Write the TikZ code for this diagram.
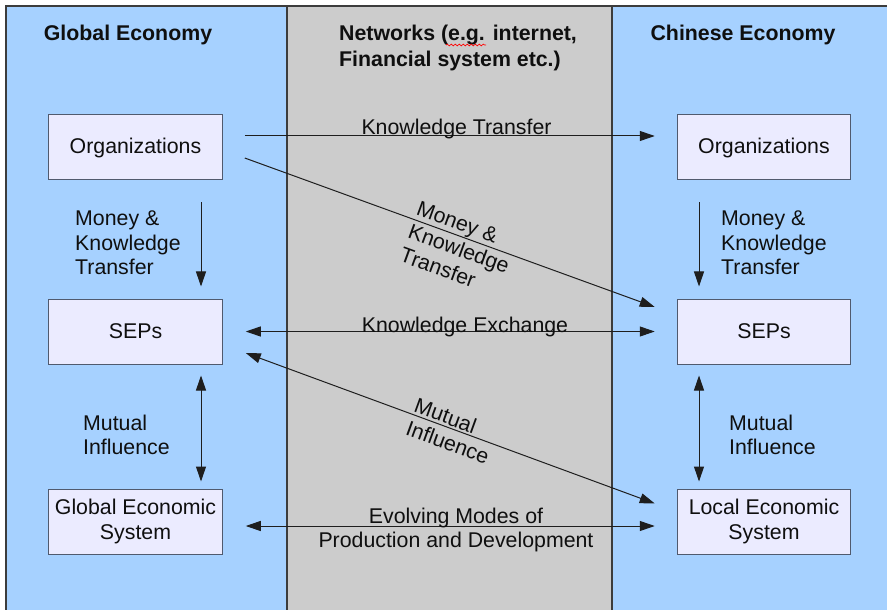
\documentclass[tikz,border=0pt]{standalone}
\usepackage{fontspec}
\setmainfont{Liberation Sans}
\usetikzlibrary{arrows.meta,calc,decorations.pathmorphing}
\definecolor{panelblue}{RGB}{166,209,255}
\definecolor{netgray}{RGB}{204,204,204}
\definecolor{boxfill}{RGB}{235,235,255}
\definecolor{boxline}{RGB}{80,90,110}
\definecolor{panelline}{RGB}{60,60,60}
\definecolor{arrowcol}{RGB}{30,30,30}
\definecolor{txt}{RGB}{15,15,15}
\tikzset{
  base/.style={font=\fontsize{21.4pt}{24.6pt}\selectfont, text=txt, inner sep=0pt},
  title/.style={base, font=\fontsize{21.4pt}{25.5pt}\selectfont\bfseries},
  lbl/.style={base},
  ebox/.style={base, draw=boxline, fill=boxfill, line width=1bp, minimum width=173.5bp, minimum height=65bp, align=center},
  conn/.style={draw=arrowcol, line width=1bp, -{Triangle[length=15bp,width=10bp]}},
  biconn/.style={draw=arrowcol, line width=1bp, {Triangle[length=15bp,width=10bp]}-{Triangle[length=15bp,width=10bp]}}
}
\begin{document}
\begin{tikzpicture}[x=1bp,y=-1bp]
\useasboundingbox (0,0) rectangle (887,610);
\begin{scope}
  \clip (0,0) rectangle (887,610);
  \fill[white] (0,0) rectangle (887,610);
  \fill[panelblue] (6,6) rectangle (900,620);
  \fill[netgray] (287,6) rectangle (612,620);
  \draw[panelline, line width=1.2bp] (6,620) -- (6,6) -- (900,6);
  \draw[panelline, line width=1.2bp] (287,6) -- (287,620);
  \draw[panelline, line width=1.2bp] (612,6) -- (612,620);
\end{scope}

% titles
\node[title] (tG) at (128,34.5) {Global Economy};
\node[title] (tC) at (743,34.5) {Chinese Economy};
\node[title, align=left, anchor=west] (tN) at (339,48) {Networks (e.g. internet,\\Financial system etc.)};
\draw[red, line width=0.7bp, decorate, decoration={snake, segment length=4bp, amplitude=0.9bp}] (446,45) -- (486,45);

% boxes
\node[ebox] (orgL) at (135.5,147.5) {Organizations};
\node[ebox] (sepL) at (135.5,331.5) {SEPs};
\node[ebox] (gesL) at (135.5,521.5) {Global Economic\\System};
\node[ebox] (orgR) at (764,147.5) {Organizations};
\node[ebox] (sepR) at (764,331.5) {SEPs};
\node[ebox] (lesR) at (764,521.5) {Local Economic\\System};

% horizontal / diagonal connectors
\draw[conn] ([shift={(22,-11.5)}]orgL.east) -- ([shift={(-22,-11.5)}]orgR.west);
\draw[conn] ([shift={(22,10.5)}]orgL.east) -- ([shift={(-22,-24.5)}]sepR.west);
\draw[biconn] ([shift={(23,0)}]sepL.east) -- ([shift={(-22,0)}]sepR.west);
\draw[biconn] ([shift={(23,21.5)}]sepL.east) -- ([shift={(-22,-18)}]lesR.west);
\draw[biconn] ([shift={(23,4.5)}]gesL.east) -- ([shift={(-22,4.5)}]lesR.west);

% vertical connectors
\draw[conn] ([shift={(65.5,22)}]orgL.south) -- ([shift={(65.5,-12)}]sepL.north);
\draw[biconn] ([shift={(65.5,11)}]sepL.south) -- ([shift={(65.5,-7)}]gesL.north);
\draw[conn] ([shift={(-65,22)}]orgR.south) -- ([shift={(-65,-12)}]sepR.north);
\draw[biconn] ([shift={(-65,11)}]sepR.south) -- ([shift={(-65,-7)}]lesR.north);

% connector labels
\node[lbl] (lKT) at (456.5,129) {Knowledge Transfer};
\node[lbl] (lKE) at (465,327) {Knowledge Exchange};
\node[lbl, align=center] (lEV) at (456,530) {Evolving Modes of\\Production and Development};
\node[lbl, align=left, rotate=-20] (lMKTd) at (459,249) {Money \&\\Knowledge\\Transfer};
\node[lbl, align=left, rotate=-20] (lMId) at (452,431) {Mutual\\Influence};
\node[lbl, align=left, anchor=west] (lMKTL) at (75,243) {Money \&\\Knowledge\\Transfer};
\node[lbl, align=left, anchor=west] (lMKTR) at (721,243) {Money \&\\Knowledge\\Transfer};
\node[lbl, align=left, anchor=west] (lMIL) at (83,435) {Mutual\\Influence};
\node[lbl, align=left, anchor=west] (lMIR) at (729,435) {Mutual\\Influence};
\end{tikzpicture}
\end{document}
